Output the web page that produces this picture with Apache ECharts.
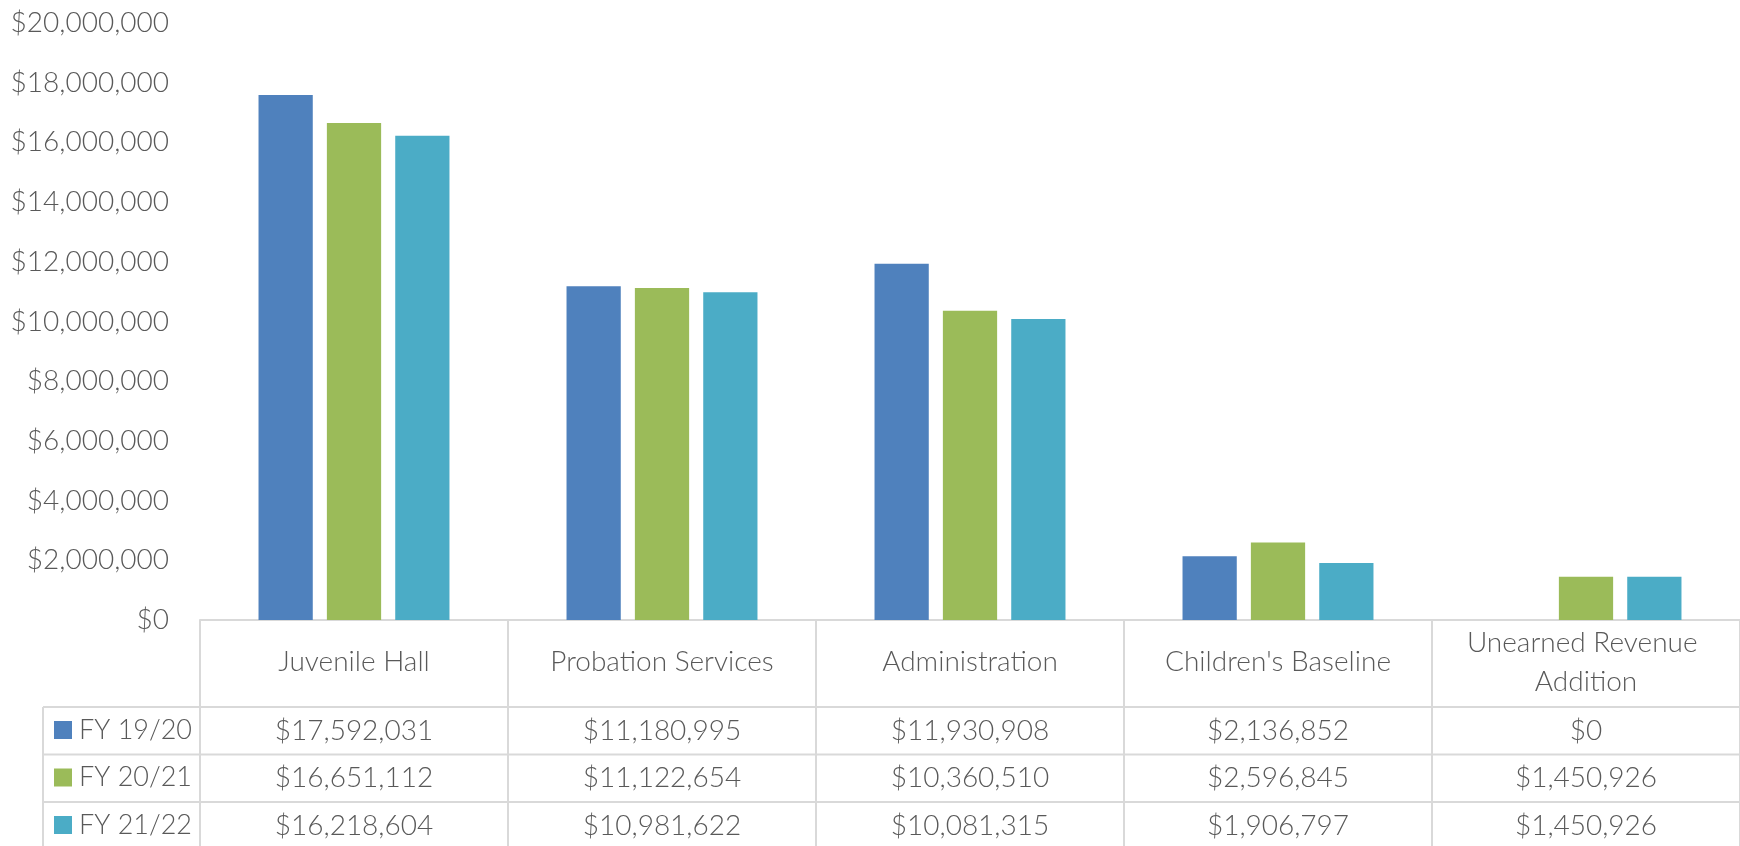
<!DOCTYPE html>
<html>
<head>
<meta charset="utf-8">
<script src="https://cdn.jsdelivr.net/npm/echarts@6/dist/echarts.min.js"></script>
<style>
  html, body { margin: 0; padding: 0; background: #fff; }
  #chart { width: 1740px; height: 846px; }
</style>
</head>
<body>
<div id="chart"></div>
<script>
const categories = ['Juvenile Hall', 'Probation Services', 'Administration', "Children's Baseline", 'Unearned Revenue Addition'];
const seriesNames = ['FY 19/20', 'FY 20/21', 'FY 21/22'];
const fy1920 = [17592031, 11180995, 11930908, 2136852, 0];
const fy2021 = [16651112, 11122654, 10360510, 2596845, 1450926];
const fy2122 = [16218604, 10981622, 10081315, 1906797, 1450926];
const yMin = 0, yMax = 20000000, yStep = 2000000;

const colors = ['#4f81bd', '#9bbb59', '#4bacc6'];
const textColor = '#595959';
const lineColor = '#d9d9d9';
const FONT = 'Lato, "Open Sans", sans-serif';
const FS = 28;
const allSeries = [fy1920, fy2021, fy2122];

function money(v) { return '$' + Math.round(v).toLocaleString('en-US'); }

const chart = echarts.init(document.getElementById('chart'));
chart.setOption({
  animation: false,
  color: colors,
  textStyle: { fontFamily: FONT, fontWeight: 300 },
  grid: { left: 200, right: 0, top: 23, bottom: 226, containLabel: false },
  legend: {
    orient: 'vertical', left: 54, top: 715, padding: 0,
    itemWidth: 18, itemHeight: 18, itemGap: 17.5,
    icon: 'rect',
    data: seriesNames,
    textStyle: { color: textColor, fontSize: 27, fontFamily: FONT, fontWeight: 300, lineHeight: 30, padding: [0, 0, 0, 2] }
  },
  xAxis: {
    type: 'category', data: categories,
    axisLine: { show: true, lineStyle: { color: lineColor, width: 2 } },
    axisTick: { show: true, alignWithLabel: false, interval: 0, length: 240, lineStyle: { color: lineColor, width: 2 } },
    axisLabel: {
      interval: 0, margin: 42, color: textColor, fontSize: FS, fontFamily: FONT, fontWeight: 300,
      verticalAlign: 'middle', lineHeight: 39, width: 290, overflow: 'break'
    }
  },
  yAxis: {
    type: 'value', min: yMin, max: yMax, interval: yStep,
    axisLine: { show: false }, axisTick: { show: false }, splitLine: { show: false },
    axisLabel: { margin: 31, color: textColor, fontSize: FS, fontFamily: FONT, fontWeight: 300, formatter: money }
  },
  series: seriesNames.map((n, k) => ({
    name: n, type: 'bar', data: allSeries[k],
    barCategoryGap: '38%', barGap: '26%'
  }))
});

function drawTable() {
  const y0 = chart.convertToPixel({ yAxisIndex: 0 }, 0);
  const rowTop = y0 + 87;
  const rowH = 47.5;
  const leftX = 43;
  const rightX = 1740;
  const g = [];
  for (let r = 0; r < 4; r++) {
    const y = rowTop + r * rowH;
    g.push({ type: 'line', shape: { x1: leftX, y1: y, x2: rightX, y2: y }, style: { stroke: lineColor, lineWidth: 2 } });
  }
  g.push({ type: 'line', shape: { x1: leftX, y1: rowTop, x2: leftX, y2: 900 }, style: { stroke: lineColor, lineWidth: 2 } });
  allSeries.forEach((arr, k) => {
    arr.forEach((v, i) => {
      const x = chart.convertToPixel({ xAxisIndex: 0 }, categories[i]);
      g.push({
        type: 'text', x: x, y: rowTop + rowH * k + rowH / 2,
        style: { text: money(v), fill: textColor, font: '300 ' + FS + 'px ' + FONT, align: 'center', verticalAlign: 'middle' }
      });
    });
  });
  chart.setOption({ graphic: g });
}
drawTable();
</script>
</body>
</html>
